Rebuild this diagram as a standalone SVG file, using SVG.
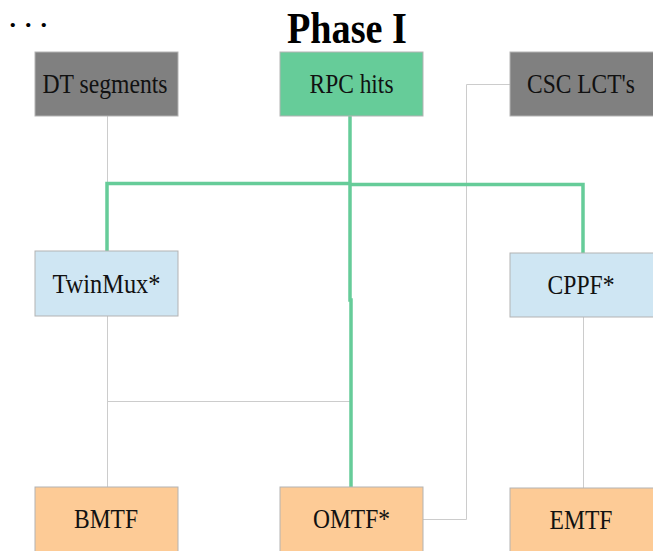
<svg xmlns="http://www.w3.org/2000/svg" width="653" height="551" viewBox="0 0 653 551">
  <style>
    .box { stroke: #b3b3b3; stroke-width: 1; }
    .src { fill: #808080; }
    .rpc { fill: #66cc99; }
    .mux { fill: #cfe6f3; }
    .tf { fill: #fdcb96; }
    .lbl { font-family: "Liberation Serif", "Times New Roman", serif; font-size: 27px; fill: #111; text-anchor: middle; }
    .title { font-family: "Liberation Serif", "Times New Roman", serif; font-size: 44px; font-weight: bold; fill: #000; text-anchor: middle; }
    .thin { fill: none; stroke: #cccccc; stroke-width: 1; }
    .green { fill: none; stroke: #66cc99; stroke-width: 3.5; }
  </style>
  <rect width="653" height="551" fill="#ffffff"/>

  <text x="9.5 25 40.5" y="26.5" font-family="Liberation Serif, serif" font-size="26" font-weight="bold" fill="#000">...</text>
  <text class="title" x="347" y="43" textLength="120" lengthAdjust="spacingAndGlyphs">Phase I</text>

  <g id="connectors">
    <!-- DT segments -> TwinMux -> BMTF -->
    <path class="thin" d="M107.5 116 V251 M107.5 316 V487"/>
    <path class="thin" d="M107.5 401.5 H350"/>
    <!-- CSC LCT's -> OMTF -->
    <path class="thin" d="M510 84.5 H466.5 V519.5 H423"/>
    <!-- CPPF -> EMTF -->
    <path class="thin" d="M583.5 317 V488"/>
    <!-- RPC hits fan-out -->
    <path class="green" d="M350 116 V184"/>
    <path class="green" d="M107 251 V183.5 H350"/>
    <path class="green" d="M350 184.5 H583 V253"/>
    <path class="green" d="M350 184 V300 H351 V487"/>
  </g>

  <g id="dt-segments">
    <rect class="box src" x="35" y="52" width="143" height="64"/>
    <text class="lbl" x="105" y="93" textLength="125" lengthAdjust="spacingAndGlyphs">DT segments</text>
  </g>
  <g id="rpc-hits">
    <rect class="box rpc" x="280" y="52" width="143" height="64"/>
    <text class="lbl" x="351.5" y="93" textLength="84" lengthAdjust="spacingAndGlyphs">RPC hits</text>
  </g>
  <g id="csc-lcts">
    <rect class="box src" x="510" y="52" width="144" height="64"/>
    <text class="lbl" x="581" y="93" textLength="108" lengthAdjust="spacingAndGlyphs">CSC LCT's</text>
  </g>
  <g id="twinmux">
    <rect class="box mux" x="35" y="251" width="143" height="65"/>
    <text class="lbl" x="106.5" y="292.5" textLength="108" lengthAdjust="spacingAndGlyphs">TwinMux*</text>
  </g>
  <g id="cppf">
    <rect class="box mux" x="510" y="253" width="144" height="64"/>
    <text class="lbl" x="581" y="294" textLength="67" lengthAdjust="spacingAndGlyphs">CPPF*</text>
  </g>
  <g id="bmtf">
    <rect class="box tf" x="35" y="487" width="143" height="65"/>
    <text class="lbl" x="106" y="528" textLength="64" lengthAdjust="spacingAndGlyphs">BMTF</text>
  </g>
  <g id="omtf">
    <rect class="box tf" x="280" y="487" width="143" height="65"/>
    <text class="lbl" x="351.5" y="528" textLength="77" lengthAdjust="spacingAndGlyphs">OMTF*</text>
  </g>
  <g id="emtf">
    <rect class="box tf" x="510" y="488" width="144" height="64"/>
    <text class="lbl" x="581" y="529" textLength="63" lengthAdjust="spacingAndGlyphs">EMTF</text>
  </g>
</svg>
